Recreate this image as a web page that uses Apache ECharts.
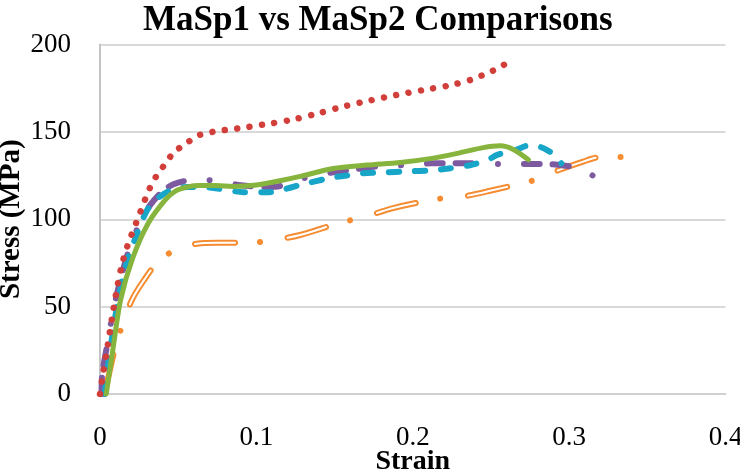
<!DOCTYPE html>
<html>
<head>
<meta charset="utf-8">
<script src="https://cdn.jsdelivr.net/npm/echarts@6/dist/echarts.min.js"></script>
<style>html,body{margin:0;padding:0;background:#fff}#c{width:740px;height:472px}</style>
</head>
<body>
<div id="c"></div>
<script>
const chartTitle = 'MaSp1 vs MaSp2 Comparisons';
const xAxisTitle = 'Strain';
const yAxisTitle = 'Stress (MPa)';
const xTickLabels = ['0', '0.1', '0.2', '0.3', '0.4'];
const yTickLabels = ['0', '50', '100', '150', '200'];

// [strain, stress]
const redDotted = [[0,0],[0.002,12],[0.005,28],[0.0085,48],[0.011,61],[0.014,74],[0.018,86],[0.021,93],[0.024,100],[0.027,107],[0.030,114],[0.033,120],[0.037,126],[0.042,132],[0.047,138],[0.056,144],[0.063,148],[0.072,150],[0.088,152],[0.107,154.5],[0.123,157],[0.139,160.5],[0.157,164.8],[0.173,168],[0.189,171],[0.207,174],[0.223,176.5],[0.238,180],[0.246,183],[0.255,186.6],[0.262,190.5]];
const orangeDashDot = [[0.003,0],[0.0064,14],[0.0096,26],[0.0147,40.6],[0.0205,54],[0.028,65],[0.0365,75],[0.049,83],[0.062,86],[0.075,86.5],[0.0915,86.5],[0.107,87.5],[0.128,91],[0.1535,98],[0.168,101],[0.1875,106.4],[0.216,111.6],[0.232,113],[0.248,116],[0.28,123],[0.293,128],[0.309,133],[0.318,135.3],[0.333,135.6]];
const purpleDash = [[0.001,0],[0.0013,10],[0.005,30],[0.0085,48],[0.013,65],[0.018,81],[0.025,97],[0.032,108],[0.040,116],[0.047,120],[0.055,122],[0.065,122.5],[0.075,122],[0.090,119.5],[0.107,118.5],[0.115,119],[0.128,123],[0.150,127],[0.165,128.8],[0.180,130.5],[0.197,131],[0.212,132],[0.226,132],[0.240,132],[0.258,131.6],[0.274,131.6],[0.288,131.5],[0.302,130],[0.310,128],[0.318,123]];
const greenSolid = [[0.004,0],[0.0085,27],[0.0132,54],[0.021,78],[0.031,98],[0.0416,111],[0.048,116],[0.056,118.5],[0.064,119.3],[0.074,119.3],[0.085,118.8],[0.100,119.6],[0.115,122],[0.128,124.5],[0.149,129],[0.171,131],[0.192,132.5],[0.211,134.7],[0.230,138],[0.245,141],[0.256,142],[0.264,140],[0.274,134]];
const cyanDash = [[0.003,0],[0.0065,25],[0.0117,54],[0.018,78],[0.023,90],[0.030,105],[0.037,112],[0.045,116.5],[0.056,118.5],[0.064,118.5],[0.077,117.3],[0.092,115.5],[0.107,115.5],[0.115,116.5],[0.128,119.6],[0.147,123.6],[0.158,125],[0.168,126.3],[0.181,126.8],[0.196,127.4],[0.213,128],[0.224,129.2],[0.237,131],[0.248,134],[0.254,136.8],[0.267,140],[0.273,142],[0.281,141.5],[0.287,139],[0.292,135.8],[0.295,132]];

const serifFont = '"Liberation Serif", "Times New Roman", serif';

function lineSeries(data, color, width, dash, z) {
  return {
    type: 'line', data: data, smooth: 0.3, showSymbol: false, symbol: 'none',
    z: z, silent: true,
    lineStyle: { color: color, width: width, type: dash, cap: 'round', join: 'round' }
  };
}

const chart = echarts.init(document.getElementById('c'), null, { renderer: 'canvas' });
chart.setOption({
  animation: false,
  backgroundColor: '#ffffff',
  title: {
    text: chartTitle, left: 143, top: 3, padding: 0,
    textStyle: { fontFamily: serifFont, fontWeight: 'bold', fontSize: 35, color: '#000' }
  },
  grid: { left: 100, right: 14.5, top: 44.5, bottom: 78, containLabel: false, outerBoundsMode: 'none' },
  xAxis: {
    type: 'value', min: 0, max: 0.4, interval: 0.1,
    name: xAxisTitle, nameLocation: 'middle', nameGap: 54, nameMoveOverlap: false,
    nameTextStyle: { fontFamily: serifFont, fontWeight: 'bold', fontSize: 28, color: '#000' },
    axisLine: { show: true, lineStyle: { color: '#d0d0d0', width: 2 } },
    axisTick: { show: false },
    splitLine: { show: false },
    axisLabel: {
      margin: 30, fontFamily: serifFont, fontSize: 27, color: '#000',
      formatter: v => xTickLabels[Math.round(v / 0.1)]
    }
  },
  yAxis: {
    type: 'value', min: 0, max: 200, interval: 50,
    name: yAxisTitle, nameLocation: 'middle', nameGap: 74, nameMoveOverlap: false,
    nameTextStyle: { fontFamily: serifFont, fontWeight: 'bold', fontSize: 29, color: '#000' },
    axisLine: { show: true, lineStyle: { color: '#c4c4c4', width: 2 } },
    axisTick: { show: false },
    splitLine: { show: true, lineStyle: { color: '#d9d9d9', width: 2 } },
    axisLabel: {
      margin: 29, fontFamily: serifFont, fontSize: 27, color: '#000', padding: [8, 0, 0, 0],
      formatter: v => yTickLabels[Math.round(v / 50)]
    }
  },
  series: [
    lineSeries(orangeDashDot, '#f58c32', 6, [40, 25, 0.01, 28], 2),
    lineSeries(orangeDashDot, '#ffffff', 2, [40, 53.01], 3),
    lineSeries(purpleDash, '#7d5aa0', 6, [16, 13, 16, 26, 0.01, 26], 4),
    lineSeries(cyanDash, '#17a5c8', 6, [10, 16], 5),
    lineSeries(greenSolid, '#86b43c', 5, 'solid', 6),
    lineSeries(redDotted, '#d23f3a', 6.5, [0.01, 12.5], 7)
  ]
});
</script>
</body>
</html>
